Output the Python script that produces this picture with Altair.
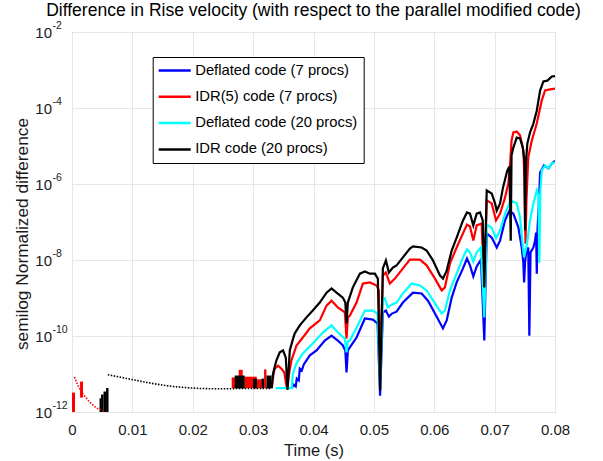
import altair as alt
import pandas as pd

FONT = "Liberation Sans"

series_names = ["Deflated code (7 procs)", "IDR(5) code (7 procs)",
                "Deflated code (20 procs)", "IDR code (20 procs)"]
series_colors = ["#0000ff", "#ff0000", "#00ffff", "#000000"]

# ---- main curves: time (s) and log10 of the normalized difference ----
blue_t = [0.03640, 0.03673, 0.03706, 0.03723, 0.03756, 0.03773, 0.03806, 0.03839, 0.03884, 0.03939,
          0.04050, 0.04187, 0.04299, 0.04403, 0.04486, 0.04527, 0.04547, 0.04569, 0.04602, 0.04713,
          0.04851, 0.04983, 0.05061, 0.05103, 0.05149, 0.05199, 0.05249, 0.05299, 0.05376, 0.05481,
          0.05647, 0.05791, 0.05896, 0.06012, 0.06144, 0.06206, 0.06289, 0.06371, 0.06476, 0.06542,
          0.06592, 0.06647, 0.06703, 0.06774, 0.06829, 0.06869, 0.06952, 0.07035, 0.07090, 0.07172,
          0.07244, 0.07310, 0.07393, 0.07449, 0.07476, 0.07488, 0.07504, 0.07521, 0.07557, 0.07575,
          0.07595, 0.07642, 0.07670, 0.07687, 0.07698, 0.07711, 0.07736, 0.07753, 0.07819, 0.07891,
          0.07947, 0.08000]
blue_log10 = [-11.37, -11.28, -11.33, -11.12, -11.17, -10.86, -10.91, -10.75, -10.64, -10.51,
              -10.38, -10.12, -9.99, -10.12, -10.25, -10.38, -10.96, -10.38, -10.30, -10.04,
              -9.54, -9.57, -9.67, -11.57, -9.38, -9.33, -9.49, -9.41, -9.36, -9.12,
              -8.86, -8.88, -9.07, -9.41, -9.80, -9.59, -8.99, -8.59, -8.22, -7.96,
              -8.14, -8.43, -8.17, -7.99, -10.12, -7.30, -7.41, -7.67, -7.49, -6.96,
              -6.70, -6.78, -7.14, -7.67, -8.07, -8.59, -8.07, -7.83, -7.67, -9.99,
              -7.80, -7.67, -7.49, -7.28, -8.36, -7.17, -6.43, -5.70, -5.51, -5.59,
              -5.46, -5.39]

red_t = [0.03308, 0.03342, 0.03358, 0.03413, 0.03469, 0.03516, 0.03562, 0.03599, 0.03635, 0.03718,
         0.03823, 0.03939, 0.04104, 0.04216, 0.04299, 0.04403, 0.04519, 0.04547, 0.04569, 0.04602,
         0.04713, 0.04818, 0.04934, 0.05045, 0.05083, 0.05103, 0.05149, 0.05199, 0.05265, 0.05348,
         0.05481, 0.05597, 0.05763, 0.05874, 0.06012, 0.06123, 0.06177, 0.06260, 0.06371, 0.06476,
         0.06542, 0.06592, 0.06647, 0.06703, 0.06786, 0.06829, 0.06869, 0.06952, 0.07023, 0.07090,
         0.07172, 0.07227, 0.07255, 0.07280, 0.07310, 0.07366, 0.07421, 0.07476, 0.07493, 0.07512,
         0.07527, 0.07557, 0.07615, 0.07698, 0.07781, 0.07836, 0.07919, 0.08000]
red_log10 = [-11.37, -10.96, -10.86, -10.78, -10.86, -10.96, -11.41, -10.96, -10.64, -10.25,
             -10.04, -9.80, -9.59, -9.20, -9.07, -9.25, -9.38, -10.07, -9.51, -9.46,
             -9.12, -8.62, -8.59, -8.67, -8.80, -11.04, -8.41, -8.33, -8.62, -8.49,
             -8.22, -7.99, -7.99, -8.14, -8.49, -8.80, -8.72, -8.09, -7.67, -7.30,
             -7.07, -7.12, -7.49, -7.09, -7.04, -9.07, -6.43, -6.51, -6.96, -6.78,
             -6.36, -5.99, -5.51, -4.86, -4.64, -4.62, -4.72, -5.12, -5.78, -7.57,
             -6.43, -5.30, -4.86, -4.41, -3.80, -3.54, -3.51, -3.49]

cyan_t = [0.03375, 0.03640, 0.03657, 0.03718, 0.03823, 0.03988, 0.04154, 0.04299, 0.04403, 0.04519,
          0.04547, 0.04569, 0.04602, 0.04713, 0.04851, 0.04983, 0.05061, 0.05103, 0.05149, 0.05182,
          0.05232, 0.05299, 0.05376, 0.05481, 0.05625, 0.05763, 0.05874, 0.06012, 0.06123, 0.06177,
          0.06260, 0.06371, 0.06476, 0.06542, 0.06592, 0.06647, 0.06703, 0.06774, 0.06829, 0.06869,
          0.06952, 0.07023, 0.07090, 0.07172, 0.07244, 0.07300, 0.07366, 0.07421, 0.07466, 0.07488,
          0.07532, 0.07587, 0.07642, 0.07698, 0.07725, 0.07741, 0.07758, 0.07781, 0.07836, 0.07891,
          0.07947, 0.08000]
cyan_log10 = [-11.37, -11.37, -10.99, -10.72, -10.46, -10.20, -9.91, -9.72, -9.91, -10.07,
              -10.43, -10.14, -10.12, -9.78, -9.33, -9.33, -9.41, -11.30, -9.07, -9.01,
              -9.25, -9.17, -9.12, -8.88, -8.62, -8.67, -8.80, -9.14, -9.41, -9.33,
              -8.80, -8.36, -7.93, -7.72, -7.80, -8.04, -7.80, -7.67, -9.51, -7.07,
              -7.15, -7.43, -7.22, -6.78, -6.51, -6.46, -6.51, -6.88, -7.62, -7.93,
              -7.62, -6.96, -6.51, -6.17, -6.30, -8.07, -6.17, -5.64, -5.51, -5.59,
              -5.46, -5.43]

black_t = [0.03308, 0.03325, 0.03342, 0.03386, 0.03441, 0.03496, 0.03541, 0.03570, 0.03607, 0.03662,
           0.03690, 0.03773, 0.03884, 0.03988, 0.04104, 0.04216, 0.04299, 0.04381, 0.04486, 0.04527,
           0.04547, 0.04569, 0.04652, 0.04768, 0.04851, 0.04934, 0.05017, 0.05066, 0.05103, 0.05149,
           0.05199, 0.05249, 0.05315, 0.05376, 0.05481, 0.05597, 0.05647, 0.05791, 0.05874, 0.05978,
           0.06095, 0.06144, 0.06206, 0.06289, 0.06371, 0.06476, 0.06542, 0.06592, 0.06647, 0.06703,
           0.06758, 0.06803, 0.06829, 0.06869, 0.06952, 0.07007, 0.07035, 0.07090, 0.07139, 0.07211,
           0.07244, 0.07267, 0.07280, 0.07310, 0.07366, 0.07421, 0.07466, 0.07493, 0.07504, 0.07521,
           0.07542, 0.07587, 0.07642, 0.07698, 0.07753, 0.07808, 0.07874, 0.07947, 0.08000]
black_log10 = [-11.37, -11.04, -10.91, -10.64, -10.43, -10.38, -10.57, -11.41, -10.38, -10.07,
               -9.93, -9.72, -9.51, -9.33, -9.12, -8.86, -8.75, -8.86, -8.99, -9.12,
               -9.67, -9.12, -8.72, -8.36, -8.30, -8.36, -8.36, -8.49, -11.43, -8.22,
               -8.01, -8.33, -8.20, -8.14, -7.93, -7.70, -7.64, -7.67, -7.75, -8.01,
               -8.41, -8.49, -8.28, -7.75, -7.41, -6.96, -6.75, -6.78, -7.09, -6.78,
               -6.75, -6.96, -8.72, -6.17, -6.25, -6.51, -6.70, -6.51, -6.09, -5.64,
               -5.54, -7.49, -5.25, -5.04, -4.78, -4.80, -5.04, -5.38, -7.22, -5.38,
               -4.93, -4.64, -4.41, -4.07, -3.54, -3.30, -3.28, -3.17, -3.16]

# ---- sparse (round-off level) early data ----
red_dot_t = [0.00041, 0.00096, 0.00179, 0.00290, 0.00401, 0.00511]
red_dot_log10 = [-11.08, -11.30, -11.52, -11.74, -11.89, -11.97]
black_dot_t = [0.00594, 0.00788, 0.01008, 0.01231, 0.01451, 0.01672, 0.01894, 0.02114,
               0.02335, 0.02557, 0.02778, 0.03308]
black_dot_log10 = [-11.02, -11.08, -11.15, -11.22, -11.28, -11.33, -11.36, -11.38,
                   -11.39, -11.39, -11.38, -11.38]

red_blk_t0 = [0.0, 0.00133, 0.02645, 0.02761, 0.02861, 0.03060, 0.03181, 0.03275]
red_blk_t1 = [0.00050, 0.00182, 0.02711, 0.02828, 0.03060, 0.03143, 0.03221, 0.03325]
red_blk_lo = [-12.0, -11.62, -11.37, -11.37, -11.37, -11.37, -11.37, -11.37]
red_blk_hi = [-11.49, -11.20, -11.09, -10.89, -11.07, -11.14, -10.88, -11.22]

black_blk_t0 = [0.00456, 0.00481, 0.00522, 0.00564, 0.02695, 0.02998, 0.03138, 0.03221]
black_blk_t1 = [0.00481, 0.00522, 0.00564, 0.00605, 0.02861, 0.03065, 0.03181, 0.03303]
black_blk_lo = [-12.0, -12.0, -12.0, -12.0, -11.38, -11.38, -11.38, -11.38]
black_blk_hi = [-11.64, -11.54, -11.46, -11.37, -11.04, -11.12, -11.12, -11.04]

x_ticks = [0, 0.01, 0.02, 0.03, 0.04, 0.05, 0.06, 0.07, 0.08]
y_tick_exponents = [-12, -10, -8, -6, -4, -2]

# ---- tables ----
frames = []
for name, t, e in zip(series_names,
                      [blue_t, red_t, cyan_t, black_t],
                      [blue_log10, red_log10, cyan_log10, black_log10]):
    frames.append(pd.DataFrame({"t": t, "value": [10.0 ** v for v in e], "series": name}))
main_df = pd.concat(frames, ignore_index=True)

red_dot_df = pd.DataFrame({"t": red_dot_t, "value": [10.0 ** v for v in red_dot_log10]})
black_dot_df = pd.DataFrame({"t": black_dot_t, "value": [10.0 ** v for v in black_dot_log10]})
red_blk_df = pd.DataFrame({"t0": red_blk_t0, "t1": red_blk_t1,
                           "lo": [10.0 ** v for v in red_blk_lo], "hi": [10.0 ** v for v in red_blk_hi]})
black_blk_df = pd.DataFrame({"t0": black_blk_t0, "t1": black_blk_t1,
                             "lo": [10.0 ** v for v in black_blk_lo], "hi": [10.0 ** v for v in black_blk_hi]})
exp_df = pd.DataFrame({"t": [0.0] * len(y_tick_exponents),
                       "value": [10.0 ** v for v in y_tick_exponents],
                       "label": [str(v) for v in y_tick_exponents]})

# ---- scales & axes ----
x_scale = alt.Scale(domain=[0, 0.08], nice=False, zero=False)
y_scale = alt.Scale(type="log", domain=[1e-12, 1e-2], nice=False)
x_axis = alt.Axis(values=x_ticks, format=".2~f", labelFlush=False, labelFontSize=15,
                  labelPadding=10, ticks=False, domain=False, grid=True, gridColor="#e6e6e6",
                  title="Time (s)", titleFontSize=16.5, titleFontWeight="normal",
                  titleY=38.5, titleBaseline="middle", labelColor="#1a1a1a", titleColor="#1a1a1a")
y_axis = alt.Axis(values=[10.0 ** v for v in y_tick_exponents], labelExpr="'10'",
                  labelFontSize=15, labelPadding=20.5, ticks=False, domain=False, grid=True,
                  gridColor="#e6e6e6", title="semilog Normalized difference",
                  titleFontSize=17.3, titleFontWeight="normal", titleX=-50, titleY=201.5,
                  titleBaseline="middle", labelColor="#1a1a1a", titleColor="#1a1a1a")

red_blocks = alt.Chart(red_blk_df).mark_rect(color="#ff0000", clip=True).encode(
    x=alt.X("t0:Q", scale=x_scale, axis=x_axis), x2="t1:Q",
    y=alt.Y("lo:Q", scale=y_scale, axis=y_axis), y2="hi:Q")
black_blocks = alt.Chart(black_blk_df).mark_rect(color="#000000", clip=True).encode(
    x=alt.X("t0:Q", scale=x_scale, axis=x_axis), x2="t1:Q",
    y=alt.Y("lo:Q", scale=y_scale, axis=y_axis), y2="hi:Q")
red_dots = alt.Chart(red_dot_df).mark_line(color="#ff0000", strokeWidth=1.6,
                                            strokeDash=[1.5, 1.5], clip=True).encode(
    x=alt.X("t:Q", scale=x_scale, axis=x_axis), y=alt.Y("value:Q", scale=y_scale, axis=y_axis))
black_dots = alt.Chart(black_dot_df).mark_line(color="#000000", strokeWidth=1.6,
                                                strokeDash=[1.5, 1.5], clip=True).encode(
    x=alt.X("t:Q", scale=x_scale, axis=x_axis), y=alt.Y("value:Q", scale=y_scale, axis=y_axis))

legend = alt.Legend(title=None, orient="none", legendX=80.7, legendY=25,
                    symbolType="M-2.67,0H2.67", symbolSize=144, symbolStrokeWidth=2.5,
                    symbolOffset=8.5, labelOffset=13, labelFontSize=14.8, labelColor="#000000",
                    labelLimit=400, padding=6, rowPadding=10.3,
                    strokeColor="#000000", fillColor="#ffffff")

main = alt.Chart(main_df).mark_line(strokeWidth=2.2, clip=True).encode(
    x=alt.X("t:Q", scale=x_scale, axis=x_axis),
    y=alt.Y("value:Q", scale=y_scale, axis=y_axis),
    color=alt.Color("series:N", scale=alt.Scale(domain=series_names, range=series_colors),
                    legend=legend))

exps = alt.Chart(exp_df).mark_text(align="left", baseline="middle", dx=-19.5, dy=-6.5,
                                   fontSize=10.5, color="#1a1a1a").encode(
    x=alt.X("t:Q", scale=x_scale, axis=x_axis),
    y=alt.Y("value:Q", scale=y_scale, axis=y_axis),
    text="label:N")

chart = alt.layer(red_blocks, black_blocks, red_dots, black_dots, main, exps).properties(
    width=483, height=380,
    padding={"left": 72, "top": 32, "right": 48, "bottom": 49},
    autosize=alt.AutoSizeParams(type="none"),
    title=alt.TitleParams("Difference in Rise velocity (with respect to the parallel modified code)",
                          fontSize=17.5, fontWeight="normal", anchor="middle", frame="group",
                          baseline="alphabetic", offset=3, dy=15.5, color="#000000"),
).configure(font=FONT).configure_view(stroke="#8a8a8a", strokeWidth=1)

chart.save("out.html", embed_options={"renderer": "svg", "actions": False})
